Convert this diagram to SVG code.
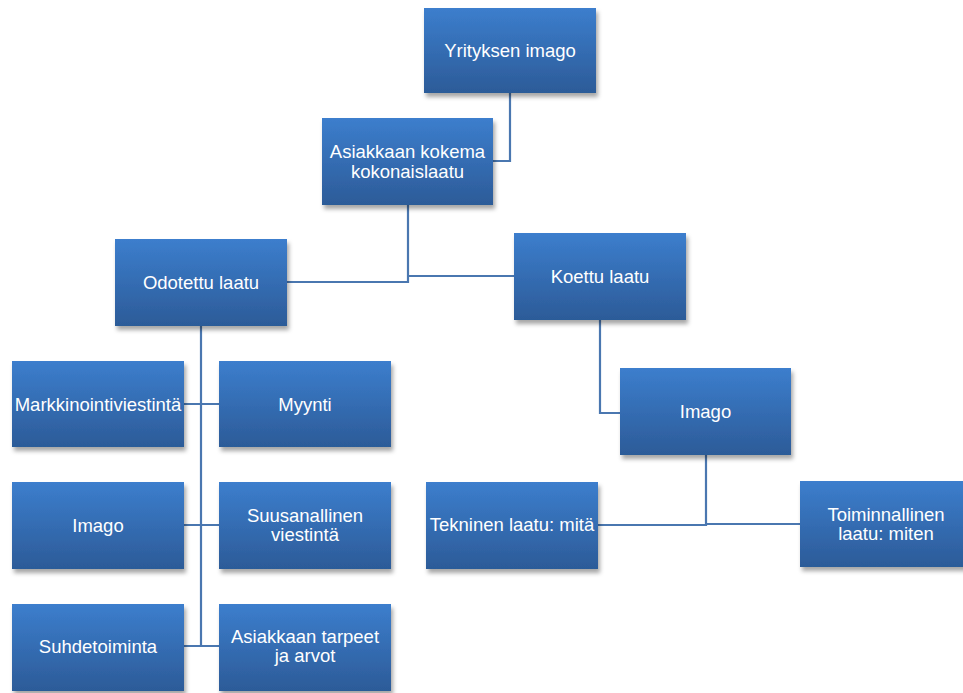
<svg xmlns="http://www.w3.org/2000/svg" width="963" height="693" viewBox="0 0 963 693">
<defs>
<linearGradient id="g" x1="0" y1="0" x2="0" y2="1">
<stop offset="0" stop-color="#3C7ECD"/>
<stop offset="1" stop-color="#2C5B98"/>
</linearGradient>
<filter id="sh" x="-10%" y="-10%" width="125%" height="130%">
<feDropShadow dx="2" dy="4" stdDeviation="2" flood-color="#000" flood-opacity="0.35"/>
</filter>
<style>
.box{fill:url(#g);filter:url(#sh)}
.t{font-family:"Liberation Sans",Arial,sans-serif;font-size:18.5px;fill:#fff;text-anchor:middle}
.c{fill:none;stroke:#4A77B0;stroke-width:2.2}
</style>
</defs>
<rect width="963" height="693" fill="#fff"/>
<g id="connectors">
<path class="c" d="M510,93 V161 H493"/>
<path class="c" d="M287,282 H408 V205"/>
<path class="c" d="M408,276 H514"/>
<path class="c" d="M201,326 V647"/>
<path class="c" d="M184,404 H219"/>
<path class="c" d="M184,525 H219"/>
<path class="c" d="M184,646 H219"/>
<path class="c" d="M600,319 V413 H620"/>
<path class="c" d="M598,525 H706 V455"/>
<path class="c" d="M706,524 H800"/>
</g>
<g id="yrityksen-imago"><rect class="box" x="424" y="8" width="172" height="85"/><text class="t" x="510" y="57">Yrityksen imago</text></g>
<g id="asiakkaan-kokema"><rect class="box" x="322" y="118" width="171" height="87"/><text class="t" x="407.5" y="158">Asiakkaan kokema</text><text class="t" x="407.5" y="178">kokonaislaatu</text></g>
<g id="odotettu-laatu"><rect class="box" x="115" y="239" width="172" height="87"/><text class="t" x="201" y="289">Odotettu laatu</text></g>
<g id="koettu-laatu"><rect class="box" x="514" y="233" width="172" height="87"/><text class="t" x="600" y="283">Koettu laatu</text></g>
<g id="imago-koettu"><rect class="box" x="620" y="368" width="171" height="87"/><text class="t" x="705.5" y="418">Imago</text></g>
<g id="tekninen-laatu"><rect class="box" x="426" y="482" width="172" height="87"/><text class="t" x="512" y="531">Tekninen laatu: mitä</text></g>
<g id="toiminnallinen-laatu"><rect class="box" x="800" y="481" width="172" height="86"/><text class="t" x="886" y="521">Toiminnallinen</text><text class="t" x="886" y="540">laatu: miten</text></g>
<g id="markkinointiviestinta"><rect class="box" x="12" y="361" width="172" height="86"/><text class="t" x="98" y="410.5">Markkinointiviestintä</text></g>
<g id="myynti"><rect class="box" x="219" y="361" width="172" height="86"/><text class="t" x="305" y="410.5">Myynti</text></g>
<g id="imago-odotettu"><rect class="box" x="12" y="482" width="172" height="87"/><text class="t" x="98" y="532">Imago</text></g>
<g id="suusanallinen-viestinta"><rect class="box" x="219" y="482" width="172" height="87"/><text class="t" x="305" y="522">Suusanallinen</text><text class="t" x="305" y="541">viestintä</text></g>
<g id="suhdetoiminta"><rect class="box" x="12" y="604" width="172" height="87"/><text class="t" x="98" y="653">Suhdetoiminta</text></g>
<g id="asiakkaan-tarpeet"><rect class="box" x="219" y="604" width="172" height="87"/><text class="t" x="305" y="643">Asiakkaan tarpeet</text><text class="t" x="305" y="662">ja arvot</text></g>
</svg>
